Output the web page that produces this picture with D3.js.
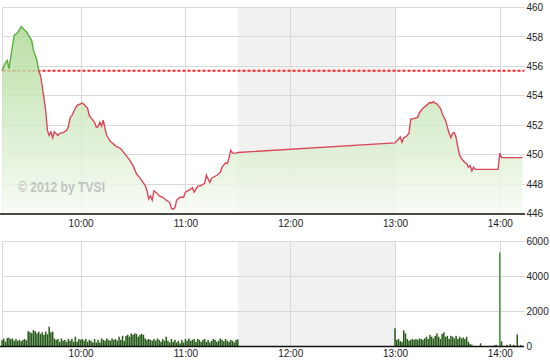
<!DOCTYPE html>
<html><head><meta charset="utf-8">
<script src="https://cdn.jsdelivr.net/npm/d3@7"></script>
<style>body{margin:0;background:#fff}svg{display:block}</style>
</head><body>
<svg id="c" width="550" height="364"></svg>
<script>
// ---------- DATA ----------
const priceTimes = ["09:15","09:17","09:18","09:19","09:21","09:22","09:24","09:25","09:26","09:28","09:29","09:30","09:32","09:33","09:35","09:36","09:37","09:38","09:40","09:41","09:42","09:43","09:44","09:45","09:47","09:48","09:50","09:52","09:53","09:54","09:55","09:57","09:58","10:01","10:02","10:04","10:05","10:06","10:08","10:09","10:10","10:11","10:12","10:13","10:14","10:15","10:17","10:20","10:23","10:25","10:28","10:30","10:32","10:34","10:37","10:38","10:39","10:40","10:41","10:42","10:43","10:44","10:45","10:47","10:49","10:51","10:52","10:53","10:54","10:55","10:57","10:59","11:00","11:03","11:04","11:05","11:07","11:09","11:11","11:12","11:14","11:15","11:18","11:20","11:21","11:23","11:24","11:25","11:26","11:27","11:29","11:30",
"13:00","13:02","13:03","13:04","13:05","13:06","13:07","13:08","13:09","13:10","13:11","13:13","13:14","13:16","13:17","13:18","13:20","13:21","13:22","13:23","13:24","13:26","13:27","13:29","13:30","13:31","13:32","13:33","13:34","13:35","13:36","13:37","13:38","13:39","13:40","13:41","13:42","13:43","13:44","13:45","13:46","13:59","14:00","14:01","14:13"];
const priceValues = [455.7,456.25,456.4,455.85,457.4,458.1,458.3,458.5,458.7,458.45,458.35,458.15,457.75,457.1,456.4,455.7,455.4,454.7,453.0,451.65,451.3,451.55,451.15,451.55,451.3,451.45,451.5,451.65,451.9,452.5,452.65,453.15,453.35,453.5,453.4,453.15,452.65,452.5,452.2,451.85,451.9,452.2,451.95,452.35,451.75,451.3,450.9,450.6,450.4,450.1,449.65,449.25,448.7,448.4,447.9,447.55,447.0,447.2,446.9,447.55,447.45,447.35,447.2,447.1,446.9,446.75,446.35,446.3,446.4,446.9,447.1,447.1,447.45,447.65,447.75,447.45,447.85,447.9,448.05,448.6,448.1,448.4,448.6,448.8,449.15,449.45,449.4,449.8,450.3,450.1,450.1,450.15,
450.8,451.05,451.2,450.85,451.15,451.2,451.3,451.45,452.4,452.45,452.45,452.55,452.85,453.15,453.25,453.35,453.55,453.5,453.6,453.5,453.45,453.15,452.8,452.3,451.85,451.45,451.15,451.45,451.5,451.15,450.5,449.95,449.75,449.6,449.45,449.4,449.15,449.25,448.9,449.15,449.0,449.0,450.1,449.8,449.8];
const refPrice = 455.7;

const volMorningStart = "09:15";
const volMorning = [360,450,280,480,500,420,460,330,430,330,380,300,380,420,350,
880,820,760,940,870,750,850,720,810,670,850,700,1130,810,850,
460,380,430,270,460,330,380,270,430,330,430,270,560,270,430,380,430,330,430,270,380,330,230,430,230,380,230,460,380,330,460,380,330,460,380,430,330,560,380,610,330,
610,670,560,750,670,750,720,560,670,720,670,460,380,430,380,
330,430,330,460,380,270,430,330,560,330,230,430,270,380,230,330,180,380,230,430,330,460,330,380,430,270,430,380,270,380,430,270,380,230,330,430,380,270,330,460,380,300,430,330,270,380,330,230,380,400];
const volAfternoonStart = "13:00";
const volAfternoon = [1040,380,430,300,270,920,750,430,330,380,430,380,430,380,460,430,380,460,560,430,670,560,460,610,750,560,430,720,810,560,610,430,610,560,460,610,430,560,460,520,430,560,270,150,100,
0,0,0,0,180,0,0,0,0,0,0,0,80,100,0,5380,300,0,0,100,0,130,0,100,0,690,0,80,0];

const priceTicks = [446,448,450,452,454,456,458,460];
const volTicks = [0,2000,4000,6000];
const timeTicks = ["10:00","11:00","12:00","13:00","14:00"];
const breakStart = "11:30", breakEnd = "13:00";
const domainStart = "09:15", domainEnd = "14:15";
const watermark = "\u00A9 2012 by TVSI";

// ---------- CHART ----------
const parse = d3.timeParse("%H:%M");
const fmt = d3.timeFormat("%H:%M");
const svg = d3.select("#c");
const font = "'Liberation Sans', Arial, sans-serif";

const left = 2.5, right = 524.5;
const x = d3.scaleTime().domain([parse(domainStart), parse(domainEnd)]).range([2, 526]);
const yP = d3.scaleLinear().domain([446, 460]).range([213.5, 7.5]);
const yV = d3.scaleLinear().domain([0, 6000]).range([346.5, 241.5]);

const price = priceTimes.map((t, i) => ({t: parse(t), v: priceValues[i]}));
const vm0 = parse(volMorningStart), va0 = parse(volAfternoonStart);
const vols = volMorning.map((v, i) => ({t: d3.timeMinute.offset(vm0, i), v}))
  .concat(volAfternoon.map((v, i) => ({t: d3.timeMinute.offset(va0, i), v})))
  .filter(d => d.v > 0);

const panels = [
  {y: yP, ticks: priceTicks, top: 7.5, bot: 213.5},
  {y: yV, ticks: volTicks, top: 241.5, bot: 346.5}
];

// gradient
const defs = svg.append("defs");
const grad = defs.append("linearGradient").attr("id", "g")
  .attr("gradientUnits", "userSpaceOnUse").attr("x1", 0).attr("x2", 0)
  .attr("y1", yP(460)).attr("y2", yP(446));
grad.append("stop").attr("offset", 0).attr("stop-color", "#a3d588");
grad.append("stop").attr("offset", 1).attr("stop-color", "#f6fbf3");
const yRef = yP(refPrice);
defs.append("clipPath").attr("id", "above").append("rect")
  .attr("x", 0).attr("y", 0).attr("width", 550).attr("height", yRef);
defs.append("clipPath").attr("id", "below").append("rect")
  .attr("x", 0).attr("y", yRef).attr("width", 550).attr("height", 220 - yRef);

panels.forEach(p => {
  svg.append("rect")
    .attr("x", x(parse(breakStart))).attr("y", p.top)
    .attr("width", x(parse(breakEnd)) - x(parse(breakStart)))
    .attr("height", p.bot - p.top).attr("fill", "#f1f1f1");
  svg.append("g").selectAll("line").data(p.ticks).join("line")
    .attr("x1", left).attr("x2", right)
    .attr("y1", d => Math.round(p.y(d) - 0.5) + 0.5).attr("y2", d => Math.round(p.y(d) - 0.5) + 0.5)
    .attr("stroke", "#d9d9d9");
  svg.append("g").selectAll("line").data(timeTicks).join("line")
    .attr("x1", d => Math.round(x(parse(d))) + 0.5).attr("x2", d => Math.round(x(parse(d))) + 0.5)
    .attr("y1", p.top).attr("y2", p.bot).attr("stroke", "#d9d9d9");
  svg.append("line").attr("x1", left).attr("x2", left).attr("y1", p.top).attr("y2", p.bot)
    .attr("stroke", "#d9d9d9");
});

// reference line
svg.append("line").attr("x1", left).attr("x2", right).attr("y1", yRef).attr("y2", yRef)
  .attr("stroke", "#ff1e1e").attr("stroke-width", 2).attr("stroke-dasharray", "3,2");

// area
const area = d3.area().x(d => x(d.t)).y0(yP(446)).y1(d => yP(d.v));
svg.append("path").datum(price).attr("d", area)
  .attr("fill", "url(#g)").attr("fill-opacity", 0.82);

// watermark
svg.append("text").attr("x", 18).attr("y", 192).text(watermark)
  .attr("font-family", font).attr("font-weight", "bold").attr("font-size", 14)
  .attr("textLength", 87).attr("lengthAdjust", "spacingAndGlyphs")
  .attr("fill", "#bdbdbd").attr("fill-opacity", 0.9);

// price line
const line = d3.line().x(d => x(d.t)).y(d => yP(d.v));
svg.append("path").datum(price).attr("d", line).attr("clip-path", "url(#above)")
  .attr("fill", "none").attr("stroke", "#5dad3f").attr("stroke-width", 1.4);
svg.append("path").datum(price).attr("d", line).attr("clip-path", "url(#below)")
  .attr("fill", "none").attr("stroke", "#d8485a").attr("stroke-width", 1.4);

// volume bars
svg.append("g").selectAll("rect").data(vols).join("rect")
  .attr("x", d => x(d.t) - 0.75).attr("width", 1.5)
  .attr("y", d => yV(d.v)).attr("height", d => yV(0) - yV(d.v))
  .attr("fill", d => d.v > 3000 ? "#4f9340" : "#275a19");

// axis base lines
svg.append("line").attr("x1", 0).attr("x2", 525).attr("y1", 214).attr("y2", 214)
  .attr("stroke", "#111").attr("stroke-width", 1.5);
svg.append("line").attr("x1", 0).attr("x2", 524).attr("y1", 346.5).attr("y2", 346.5)
  .attr("stroke", "#111").attr("stroke-width", 1.5);

// axes labels
function style(g) {
  g.select(".domain").remove();
  g.selectAll("text").attr("font-family", font).attr("font-size", 10).attr("fill", "#222");
}
svg.append("g").attr("transform", "translate(524.5,0)")
  .call(d3.axisRight(yP).tickValues(priceTicks).tickSize(0).tickPadding(2).tickFormat(d3.format("d")))
  .call(style);
svg.append("g").attr("transform", "translate(524.5,0)")
  .call(d3.axisRight(yV).tickValues(volTicks).tickSize(0).tickPadding(2).tickFormat(d3.format("d")))
  .call(style);
const timeAxis = d3.axisBottom(x).tickValues(timeTicks.map(parse)).tickSize(0).tickFormat(fmt);
svg.append("g").attr("transform", "translate(0,213.5)").call(timeAxis.tickPadding(6)).call(style);
svg.append("g").attr("transform", "translate(0,346.5)").call(timeAxis.tickPadding(3)).call(style);
</script>
</body></html>
